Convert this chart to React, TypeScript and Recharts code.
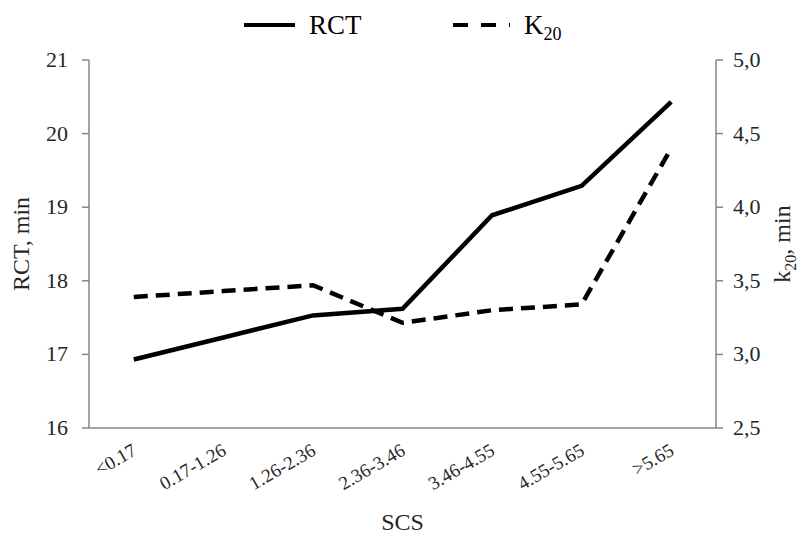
import React from 'react';
import { Legend, Line, LineChart, XAxis, YAxis } from 'recharts';

const categories = ['<0.17', '0.17-1.26', '1.26-2.36', '2.36-3.46', '3.46-4.55', '4.55-5.65', '>5.65'];
const rctValues = [16.93, 17.23, 17.53, 17.62, 18.89, 19.29, 20.43];
const k20Values = [3.39, 3.43, 3.47, 3.215, 3.3, 3.34, 4.4];
const rctTicks = [16, 17, 18, 19, 20, 21];
const k20Ticks = [2.5, 3.0, 3.5, 4.0, 4.5, 5.0];

const data = categories.map((name, i) => ({ name, rct: rctValues[i], k20: k20Values[i] }));

const FONT = '"Liberation Serif", "Times New Roman", serif';
const AXIS = '#868686';
const TEXT = '#262626';

const txt = (size: number, color = TEXT): React.CSSProperties => ({ fontFamily: FONT, fontSize: size, fill: color });

function XTick({ x, y, payload }: any) {
  return (
    <text x={x + 4} y={y + 18} transform={`rotate(-30, ${x + 4}, ${y + 18})`} textAnchor="end" style={txt(19)}>
      {payload.value}
    </text>
  );
}

function LeftTick({ x, y, payload }: any) {
  return (
    <text x={x} y={y + 7} textAnchor="end" style={txt(22)}>
      {payload.value}
    </text>
  );
}

function RightTick({ x, y, payload }: any) {
  return (
    <text x={x} y={y + 7} textAnchor="start" style={txt(22)}>
      {payload.value.toFixed(1).replace('.', ',')}
    </text>
  );
}

function LeftLabel({ viewBox }: any) {
  const cx = 29;
  const cy = viewBox.y + viewBox.height / 2;
  return (
    <text x={cx} y={cy} transform={`rotate(-90, ${cx}, ${cy})`} textAnchor="middle" style={txt(24)}>
      RCT, min
    </text>
  );
}

function RightLabel({ viewBox }: any) {
  const cx = 790;
  const cy = viewBox.y + viewBox.height / 2;
  return (
    <text x={cx} y={cy} transform={`rotate(-90, ${cx}, ${cy})`} textAnchor="middle" style={txt(24)}>
      k<tspan style={{ fontSize: 16 }} dy={6}>20</tspan>
      <tspan dy={-6}>, min</tspan>
    </text>
  );
}

function BottomLabel({ viewBox }: any) {
  return (
    <text x={viewBox.x + viewBox.width / 2} y={530} textAnchor="middle" style={txt(24)}>
      SCS
    </text>
  );
}

function LegendBox() {
  return (
    <div style={{ position: 'relative', width: 806, height: 0 }}>
      <svg width={806} height={45} style={{ position: 'absolute', left: 0, top: 0 }}>
        <line x1={244} y1={25} x2={295} y2={25} stroke="#000" strokeWidth={4} />
        <text x={309} y={34} style={txt(27, '#000')}>RCT</text>
        <line x1={453} y1={25} x2={510} y2={25} stroke="#000" strokeWidth={4} strokeDasharray="15 13" />
        <text x={524} y={34} style={txt(27, '#000')}>
          K<tspan style={{ fontSize: 18 }} dy={6}>20</tspan>
        </text>
      </svg>
    </div>
  );
}

export default function App() {
  return (
    <div style={{ position: 'absolute', left: 0, top: 0, width: 806, height: 539, background: '#fff', fontFamily: FONT }}>
      <LineChart width={806} height={539} data={data} margin={{ top: 60, right: 0, bottom: 0, left: 0 }}>
        <XAxis
          dataKey="name"
          height={111}
          padding={{ left: 44.8, right: 44.8 }}
          axisLine={{ stroke: AXIS, strokeWidth: 1.5 }}
          tickLine={false}
          tick={<XTick />}
          interval={0}
          label={<BottomLabel />}
        />
        <YAxis
          yAxisId="left"
          width={89}
          domain={[16, 21]}
          ticks={rctTicks}
          interval={0}
          axisLine={{ stroke: AXIS, strokeWidth: 1.5 }}
          tickLine={{ stroke: AXIS, strokeWidth: 1.5 }}
          tickSize={7}
          tickMargin={14}
          tick={<LeftTick />}
          label={<LeftLabel />}
        />
        <YAxis
          yAxisId="right"
          orientation="right"
          width={90}
          domain={[2.5, 5]}
          ticks={k20Ticks}
          interval={0}
          axisLine={{ stroke: AXIS, strokeWidth: 1.5 }}
          tickLine={{ stroke: AXIS, strokeWidth: 1.5 }}
          tickSize={7}
          tickMargin={10}
          tick={<RightTick />}
          label={<RightLabel />}
        />
        <Legend
          verticalAlign="top"
          content={<LegendBox />}
          wrapperStyle={{ top: 0, left: 0, width: 806, height: 0 }}
        />
        <Line
          yAxisId="left"
          dataKey="rct"
          stroke="#000"
          strokeWidth={4.5}
          dot={false}
          activeDot={false}
          isAnimationActive={false}
        />
        <Line
          yAxisId="right"
          dataKey="k20"
          stroke="#000"
          strokeWidth={4.5}
          strokeDasharray="14 8"
          dot={false}
          activeDot={false}
          isAnimationActive={false}
        />
      </LineChart>
    </div>
  );
}
